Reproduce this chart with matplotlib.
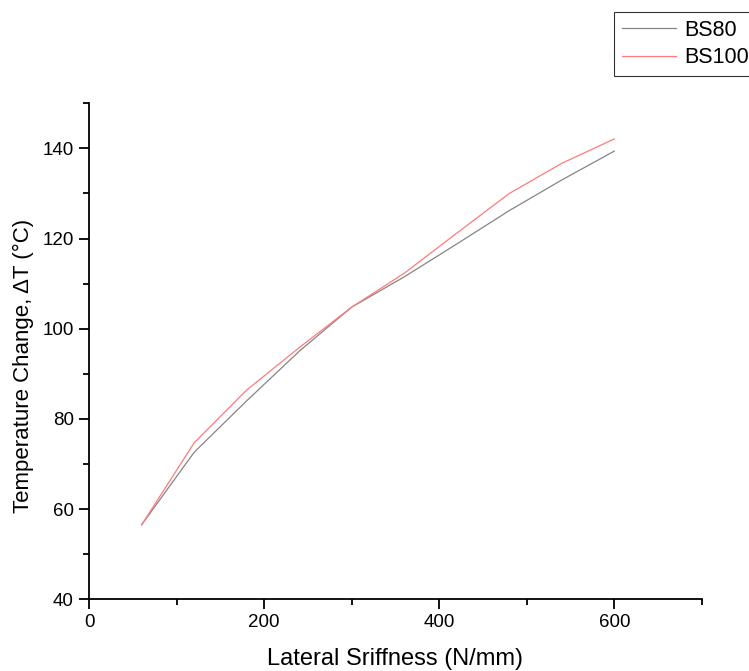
import numpy as np
import matplotlib
matplotlib.use("Agg")
import matplotlib.pyplot as plt
from matplotlib.ticker import MultipleLocator

plt.rcParams['font.family'] = ['Liberation Sans', 'DejaVu Sans']

stiffness = [60, 120, 180, 240, 300, 360, 420, 480, 540, 600]
bs80 = [56.5, 72.6, 84.0, 95.0, 104.8, 111.5, 118.8, 126.2, 133.0, 139.4]
bs100 = [56.5, 74.7, 86.4, 95.8, 104.8, 112.3, 121.2, 130.0, 136.7, 142.1]

fig = plt.figure(figsize=(7.49, 6.71), dpi=100)
ax = fig.add_axes([0.119, 0.107, 0.818, 0.739])

ax.plot(stiffness, bs80, color="#858585", lw=0.9, label="BS80")
ax.plot(stiffness, bs100, color="#ff7a7a", lw=0.9, label="BS100")

ax.set_xlim(0, 700)
ax.set_ylim(40, 150)
ax.xaxis.set_major_locator(MultipleLocator(200))
ax.xaxis.set_minor_locator(MultipleLocator(100))
ax.yaxis.set_major_locator(MultipleLocator(20))
ax.yaxis.set_minor_locator(MultipleLocator(10))
for s in ["top", "right"]:
    ax.spines[s].set_visible(False)
for s in ["left", "bottom"]:
    ax.spines[s].set_linewidth(1.3)
ax.tick_params(which="major", direction="out", length=7, width=1.3,
               labelsize=13.5, pad=4)
ax.tick_params(which="minor", direction="out", length=4, width=1.3)

ax.set_xlabel("Lateral Sriffness (N/mm)", fontsize=17, labelpad=12)
ax.set_ylabel("Temperature Change, ΔT (°C)", fontsize=16)
ax.yaxis.set_label_coords(-0.09, 0.47)

leg = fig.legend(loc="upper left", bbox_to_anchor=(0.82, 0.982), fontsize=15.5,
                 frameon=True, fancybox=False, edgecolor="black",
                 handlelength=2.5, borderpad=0.35, labelspacing=0.3,
                 handletextpad=0.4, borderaxespad=0)
leg.get_frame().set_linewidth(0.8)

fig.savefig("out.png", dpi=100)
